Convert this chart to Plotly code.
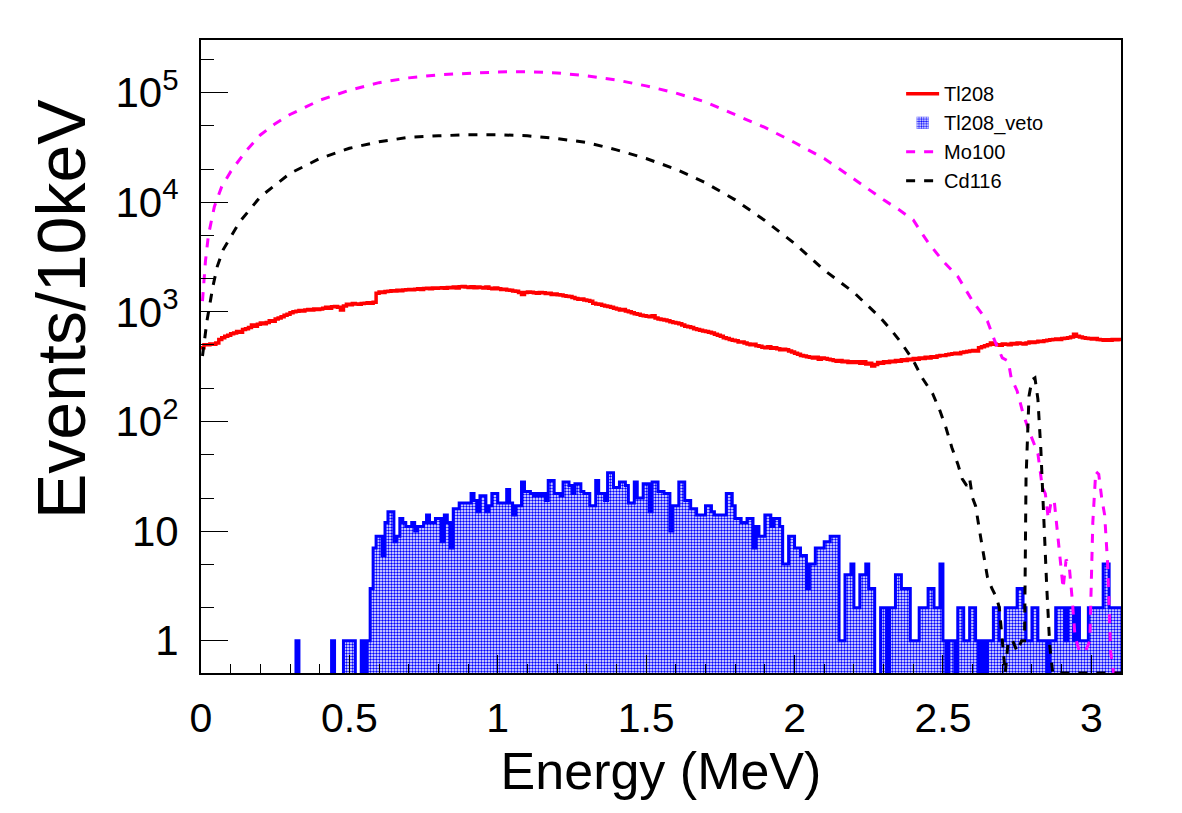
import numpy as np
import plotly.graph_objects as go

# ---------------- data ----------------
BIN_WIDTH = 0.01  # MeV (10 keV bins), 310 bins from 0 to 3.1 MeV

# Tl208 spectrum, counts per 10 keV bin, one row = 0.1 MeV
tl208_counts = [
    470, 500, 500, 510, 505, 520, 560, 580, 600, 610,
    630, 640, 660, 650, 690, 700, 720, 760, 740, 770,
    790, 780, 800, 830, 820, 860, 880, 900, 930, 950,
    980, 1000, 1010, 1030, 1020, 1040, 1050, 1040, 1060, 1050,
    1060, 1080, 1100, 1080, 1110, 1120, 1100, 1040, 1130, 1170,
    1160, 1190, 1180, 1170, 1190, 1200, 1210, 1200, 1220, 1480,
    1520, 1500, 1530, 1540, 1560, 1550, 1570, 1560, 1580, 1590,
    1600, 1590, 1610, 1620, 1600, 1630, 1640, 1620, 1650, 1640,
    1650, 1660, 1640, 1670, 1660, 1680, 1650, 1690, 1700, 1680,
    1670, 1690, 1660, 1680, 1670, 1650, 1680, 1640, 1620, 1650,
    1620, 1600, 1610, 1580, 1570, 1550, 1540, 1500, 1440, 1500,
    1520, 1510, 1490, 1480, 1500, 1490, 1470, 1480, 1440, 1450,
    1430, 1420, 1400, 1390, 1380, 1350, 1320, 1300, 1310, 1280,
    1270, 1250, 1200, 1180, 1170, 1150, 1130, 1120, 1100, 1080,
    1060, 1040, 1050, 1020, 1000, 980, 960, 950, 930, 920,
    910, 900, 920, 880, 860, 850, 840, 830, 810, 800,
    790, 780, 760, 740, 730, 720, 700, 690, 680, 670,
    660, 650, 640, 625, 610, 600, 580, 570, 560, 550,
    545, 530, 530, 520, 510, 500, 505, 490, 485, 475,
    470, 480, 465, 470, 460, 450, 455, 450, 440, 430,
    420, 410, 400, 395, 390, 385, 380, 385, 370, 380,
    375, 370, 365, 360, 355, 360, 350, 355, 345, 350,
    345, 350, 340, 350, 335, 340, 320, 330, 345, 340,
    350, 345, 355, 350, 360, 355, 365, 360, 370, 365,
    375, 370, 380, 375, 385, 380, 390, 385, 395, 400,
    400, 405, 410, 415, 420, 415, 425, 430, 435, 440,
    445, 440, 470, 480, 490, 500, 520, 505, 500, 495,
    510, 505, 500, 515, 510, 520, 515, 510, 520, 530,
    525, 530, 540, 535, 545, 550, 555, 560, 565, 560,
    570, 575, 580, 590, 625, 600, 590, 580, 575, 570,
    565, 570, 560, 555, 550, 555, 550, 560, 555, 560,
]

# Tl208 after veto, counts per 10 keV bin, one row = 0.1 MeV
tl208_veto_counts = [
    0, 0, 0, 0, 0, 0, 0, 0, 0, 0,
    0, 0, 0, 0, 0, 0, 0, 0, 0, 0,
    0, 0, 0, 0, 0, 0, 0, 0, 0, 0,
    0, 0, 1, 0, 0, 0, 0, 0, 0, 0,
    0, 0, 0, 0, 1, 0, 0, 0, 1, 1,
    1, 1, 0, 0, 1, 0, 1, 3, 7, 9,
    9, 6, 12, 15, 15, 8, 9, 13, 12, 11,
    11, 12, 10, 11, 11, 12, 14, 12, 12, 13,
    13, 8, 14, 12, 7, 16, 16, 18, 18, 18,
    18, 22, 19, 15, 21, 21, 15, 17, 22, 22,
    18, 18, 18, 24, 18, 14, 17, 17, 28, 23,
    23, 22, 21, 22, 21, 22, 19, 29, 29, 22,
    22, 21, 28, 28, 26, 22, 27, 27, 23, 22,
    22, 17, 17, 29, 22, 22, 19, 34, 34, 25,
    25, 28, 28, 26, 18, 18, 28, 20, 20, 27,
    27, 15, 28, 28, 23, 23, 22, 22, 10, 17,
    17, 28, 28, 19, 19, 16, 16, 14, 14, 14,
    17, 17, 15, 14, 14, 14, 14, 22, 22, 17,
    13, 13, 12, 12, 13, 13, 7, 11, 9, 9,
    14, 14, 11, 13, 13, 11, 5, 5, 9, 9,
    7, 7, 6, 6, 3, 5, 5, 7, 7, 7,
    8, 8, 9, 9, 9, 1, 1, 4, 4, 5,
    2, 2, 4, 4, 5, 3, 3, 0, 0, 2,
    2, 0, 2, 2, 4, 4, 3, 3, 3, 1,
    1, 1, 2, 2, 2, 3, 3, 2, 2, 5,
    1, 0, 1, 1, 0, 2, 2, 1, 1, 2,
    2, 1, 0, 1, 0, 1, 1, 2, 2, 1,
    1, 2, 2, 2, 2, 3, 3, 2, 1, 1,
    2, 2, 1, 1, 1, 0, 1, 1, 2, 2,
    2, 1, 2, 2, 1, 2, 1, 1, 1, 2,
    2, 2, 2, 2, 5, 5, 2, 2, 2, 2,
]

# Mo100 (smooth spectrum), sampled points
mo100_energy = [0.005, 0.015, 0.025, 0.035, 0.045, 0.07, 0.1, 0.15, 0.2, 0.25,
                0.3, 0.4, 0.5, 0.6, 0.7, 0.8, 0.9, 1.0, 1.1, 1.2,
                1.3, 1.4, 1.5, 1.6, 1.7, 1.8, 1.9, 2.0, 2.1, 2.2,
                2.3, 2.35, 2.4, 2.425, 2.45, 2.5, 2.55, 2.6, 2.65, 2.675, 2.7,
                2.72, 2.73, 2.75, 2.77, 2.79, 2.82, 2.835, 2.845, 2.855, 2.865,
                2.875, 2.885, 2.895, 2.905, 2.915, 2.925, 2.935, 2.945, 2.96, 2.98,
                2.995, 3.005, 3.015, 3.025, 3.035, 3.045, 3.055, 3.065, 3.075, 3.1]
mo100_counts = [1250, 2900, 5000, 7000, 9100, 13900, 19000, 29000, 41000, 52000,
                63000, 85000, 105000, 123000, 136000, 145000, 150000, 154000, 155000, 151000,
                142000, 130000, 115000, 99000, 82000, 63000, 48000, 35000, 25000, 16300,
                10500, 8600, 6900, 5400, 4300, 2900, 2100, 1250, 820, 540, 380,
                355, 250, 190, 118, 82, 51, 25, 22, 13, 19,
                19, 10, 5.5, 3, 5.5, 5, 2.5, 1.1, 0.8, 0.8,
                1, 12, 35, 33, 20, 14, 5, 0.8, 0, 0]

# Cd116 (smooth spectrum), sampled points
cd116_energy = [0.005, 0.02, 0.04, 0.055, 0.075, 0.095, 0.13, 0.2, 0.3, 0.4,
                0.5, 0.6, 0.7, 0.8, 0.9, 1.0, 1.1, 1.2, 1.3, 1.4,
                1.5, 1.6, 1.7, 1.8, 1.9, 2.0, 2.1, 2.2, 2.25, 2.29,
                2.33, 2.36, 2.40, 2.43, 2.465, 2.49, 2.51, 2.53, 2.55, 2.565,
                2.58, 2.59, 2.60, 2.61, 2.625, 2.64, 2.65, 2.665, 2.68, 2.69,
                2.70, 2.71, 2.72, 2.735, 2.75, 2.765, 2.775, 2.78, 2.79, 2.80,
                2.81, 2.82, 2.83, 2.84, 2.85, 2.86, 2.87, 3.1]
cd116_counts = [395, 822, 1700, 2600, 3700, 4560, 6600, 11200, 18300, 25000,
                31000, 35600, 39000, 40300, 41200, 41200, 40300, 38000, 35000, 30000,
                25000, 20000, 15000, 10500, 6800, 4200, 2400, 1500, 1120, 880,
                660, 520, 360, 250, 180, 125, 88, 58, 41, 30,
                26, 30, 20, 17, 9.5, 5.6, 3.8, 3, 2.5, 2,
                1, 0, 1, 1, 0.8, 1, 1, 30, 170, 240,
                250, 160, 55, 12, 3, 0.9, 0, 0]

x_tick_values = [0, 0.5, 1, 1.5, 2, 2.5, 3]
x_tick_labels = ["0", "0.5", "1", "1.5", "2", "2.5", "3"]
y_tick_values = [1, 10, 100, 1000, 10000, 100000]
y_tick_labels = ["1", "10", "10<sup>2</sup>", "10<sup>3</sup>", "10<sup>4</sup>", "10<sup>5</sup>"]

# ---------------- figure ----------------
Y_LOG_MIN, Y_LOG_MAX = -0.294, 5.479
FLOOR = 10 ** Y_LOG_MIN  # empty bins are drawn on the frame bottom, as ROOT does
FONT = "Liberation Sans, Arial, Helvetica, sans-serif"

n_bins = len(tl208_counts)
edges = np.round(np.arange(n_bins + 1) * BIN_WIDTH, 4)
centers = edges[:-1] + BIN_WIDTH / 2


def step_xy(counts, low):
    ys = [c if c > 0 else low for c in counts]
    return list(edges), ys + [ys[-1]]


def floor_zero(vals):
    return [v if v > 0 else FLOOR for v in vals]


fig = go.Figure()

tx, ty = step_xy(tl208_counts, FLOOR)
fig.add_trace(go.Scatter(x=tx, y=ty, mode="lines", line=dict(color="#ff0000", width=3.5, shape="hv"),
                         name="Tl208"))

fig.add_trace(go.Bar(x=centers, y=[c if c > 0 else None for c in tl208_veto_counts], width=BIN_WIDTH,
                     marker=dict(color="white", line=dict(width=0),
                                 pattern=dict(shape=".", fgcolor="#0000ff", bgcolor="white",
                                              size=3, solidity=0.5, fillmode="replace")),
                     name="Tl208_veto"))
vx, vy = step_xy(tl208_veto_counts, 0.1)
fig.add_trace(go.Scatter(x=vx, y=vy, mode="lines", line=dict(color="#0000ff", width=3, shape="hv"),
                         showlegend=False, name="Tl208_veto"))

fig.add_trace(go.Scatter(x=mo100_energy, y=floor_zero(mo100_counts), mode="lines",
                         line=dict(color="#ff00ff", width=3, dash="dash"), name="Mo100"))
fig.add_trace(go.Scatter(x=cd116_energy, y=floor_zero(cd116_counts), mode="lines",
                         line=dict(color="#000000", width=3, dash="dash"), name="Cd116"))

fig.update_layout(
    width=1182, height=813,
    margin=dict(l=201, r=61, t=40, b=140, autoexpand=False),
    paper_bgcolor="white", plot_bgcolor="white",
    font=dict(family=FONT, color="black"),
    bargap=0,
    showlegend=True,
    legend=dict(x=0.761, y=0.946, xanchor="left", yanchor="top",
                bgcolor="rgba(255,255,255,0)", borderwidth=0,
                font=dict(size=20, family=FONT), itemwidth=33),
    xaxis=dict(range=[0, 3.1], showline=True, linecolor="black", linewidth=2, mirror=True,
               showgrid=False, zeroline=False,
               tickmode="array", tickvals=x_tick_values, ticktext=x_tick_labels,
               ticks="inside", ticklen=18, tickwidth=1, tickcolor="black",
               minor=dict(ticks="inside", ticklen=9, dtick=0.1, tickcolor="black", showgrid=False),
               tickfont=dict(size=41, family=FONT),
               ticklabelstandoff=8,
               title=dict(text="Energy (MeV)", font=dict(size=52, family=FONT), standoff=12)),
    yaxis=dict(type="log", range=[Y_LOG_MIN, Y_LOG_MAX], showline=True, linecolor="black",
               linewidth=2, mirror=True, showgrid=False, zeroline=False,
               tickmode="array", tickvals=y_tick_values, ticktext=y_tick_labels,
               ticks="inside", ticklen=27, tickwidth=1, tickcolor="black",
               minor=dict(ticks="inside", ticklen=13, tickcolor="black", showgrid=False),
               tickfont=dict(size=42, family=FONT),
               ticklabelstandoff=12),
    annotations=[dict(text="Events/10keV", textangle=-90, xref="paper", yref="paper",
                      x=(61 - 201) / 920, y=(673 - 309) / 633, xanchor="center", yanchor="middle",
                      showarrow=False, font=dict(size=68, family=FONT, color="black"))],
)

fig.write_html("out.html")
